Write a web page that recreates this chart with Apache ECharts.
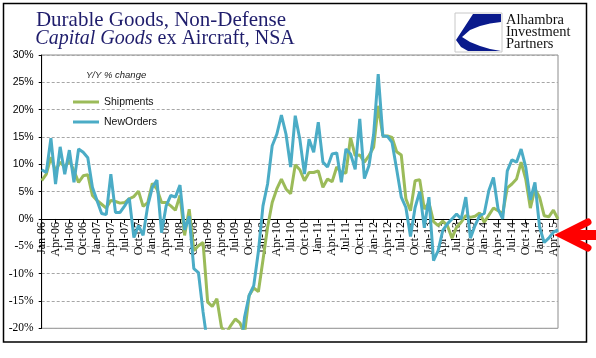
<!DOCTYPE html>
<html><head><meta charset="utf-8">
<script src="https://cdn.jsdelivr.net/npm/echarts@6/dist/echarts.min.js"></script>
<style>html,body{margin:0;padding:0;background:#fff}#c{width:596px;height:358px}</style>
</head><body><div id="c"></div>
<script>
const categories = [
'Jan-06','Feb-06','Mar-06','Apr-06','May-06','Jun-06','Jul-06','Aug-06','Sep-06','Oct-06','Nov-06','Dec-06',
'Jan-07','Feb-07','Mar-07','Apr-07','May-07','Jun-07','Jul-07','Aug-07','Sep-07','Oct-07','Nov-07','Dec-07',
'Jan-08','Feb-08','Mar-08','Apr-08','May-08','Jun-08','Jul-08','Aug-08','Sep-08','Oct-08','Nov-08','Dec-08',
'Jan-09','Feb-09','Mar-09','Apr-09','May-09','Jun-09','Jul-09','Aug-09','Sep-09','Oct-09','Nov-09','Dec-09',
'Jan-10','Feb-10','Mar-10','Apr-10','May-10','Jun-10','Jul-10','Aug-10','Sep-10','Oct-10','Nov-10','Dec-10',
'Jan-11','Feb-11','Mar-11','Apr-11','May-11','Jun-11','Jul-11','Aug-11','Sep-11','Oct-11','Nov-11','Dec-11',
'Jan-12','Feb-12','Mar-12','Apr-12','May-12','Jun-12','Jul-12','Aug-12','Sep-12','Oct-12','Nov-12','Dec-12',
'Jan-13','Feb-13','Mar-13','Apr-13','May-13','Jun-13','Jul-13','Aug-13','Sep-13','Oct-13','Nov-13','Dec-13',
'Jan-14','Feb-14','Mar-14','Apr-14','May-14','Jun-14','Jul-14','Aug-14','Sep-14','Oct-14','Nov-14','Dec-14',
'Jan-15','Feb-15','Mar-15','Apr-15','May-15'];

const shipments = [
7.0,8.2,11.3,8.8,10.4,9.5,10.7,8.8,6.7,7.9,8.1,4.3,
3.4,2.7,2.0,3.4,3.2,2.9,3.0,3.7,4.1,5.1,2.3,3.0,
6.5,5.5,3.0,3.0,2.4,1.6,4.3,-3.0,1.8,-5.8,-4.9,-4.3,
-15.2,-16.0,-14.6,-19.8,-21.0,-19.5,-18.3,-19.0,-21.0,-14.0,-12.6,-13.3,
-7.5,-1.5,3.0,5.5,7.3,5.5,4.6,9.9,9.0,7.0,8.5,8.5,
8.8,5.8,7.3,6.8,9.5,8.5,8.4,14.9,11.6,11.7,10.4,11.6,
13.1,20.7,15.2,15.2,14.9,12.3,11.7,3.7,1.5,7.0,7.2,1.8,
3.0,-0.5,-1.2,-0.4,-1.2,-3.5,-1.5,-0.6,0.6,0.3,0.5,1.1,
-0.6,0.7,2.0,1.5,1.0,5.7,6.4,7.3,10.4,7.3,2.0,5.5,
4.0,0.6,0.4,1.6,0.0];

const newOrders = [
9.0,8.5,14.8,6.4,13.2,8.2,12.6,6.7,12.8,12.2,11.2,5.8,
3.4,1.0,0.8,8.2,1.2,1.2,2.4,3.8,-3.4,-1.2,-3.0,2.4,
5.8,7.1,-2.5,2.4,4.3,4.0,6.2,-2.0,0.5,-9.1,-9.8,-17.0,
-23,-26,-29,-31,-32,-30,-29,-25,-18,-14.0,-12.2,-6.0,
2.4,6.4,13.4,15.5,19.0,15.5,9.5,18.9,14.6,8.2,14.6,12.2,
17.7,10.4,9.5,11.9,12.1,6.7,12.8,11.9,9.1,18.3,7.4,9.8,
15.4,26.5,15.2,15.1,14.0,9.1,4.0,2.1,-3.2,2.1,5.0,-1.6,
4.0,-7.6,-5.8,-2.1,-0.9,0.0,0.9,0.0,4.0,-3.5,-1.2,0.6,
1.0,5.2,7.6,1.8,0.0,8.8,10.8,10.4,12.8,9.5,3.5,6.7,
-1.5,-4.3,-3.5,-2.4,-2.0];

const seriesNames = ['Shipments','NewOrders'];
const titleLine1 = 'Durable Goods, Non-Defense';
const titleItalic = 'Capital Goods';
const titleRest = ' ex Aircraft, NSA';
const subLabel = 'Y/Y % change';
const logoLines = ['Alhambra','Investment','Partners'];

const chart = echarts.init(document.getElementById('c'), null, {renderer:'canvas'});
const navy = '#1f1d6c';
const gridTop = 55, gridBottom = 29.7, H = 358;
const plotH = H - gridTop - gridBottom;
const zeroShift = -plotH * (0 - (-20)) / (30 - (-20));
chart.setOption({
  animation:false,
  backgroundColor:'#fff',
  grid:{left:41.7, right:38, top:gridTop, bottom:gridBottom, show:true, borderColor:'#8c8c8c', borderWidth:1, backgroundColor:'transparent'},
  legend:{
    data:seriesNames, orient:'vertical', left:73, top:96.5, padding:0, itemWidth:26, itemHeight:3, itemGap:9,
    icon:'rect', textStyle:{fontFamily:'Liberation Sans', fontSize:10.5, color:'#111'}
  },
  xAxis:{
    type:'category', data:categories, boundaryGap:false, position:'bottom', offset:zeroShift,
    axisLine:{onZero:false, lineStyle:{color:'#000', width:1}},
    axisTick:{show:true, interval:2, length:4, lineStyle:{color:'#000'}},
    axisLabel:{interval:2, rotate:90, margin:3, fontFamily:'Liberation Serif', fontSize:12, color:'#000'},
    splitLine:{show:false}
  },
  yAxis:{
    type:'value', min:-20, max:30, interval:5,
    axisLine:{show:true, lineStyle:{color:'#000', width:1}},
    axisTick:{show:true, length:3, lineStyle:{color:'#000'}},
    axisLabel:{margin:8, color:'#000',
      formatter:function(v){ return v<0 ? '{n|'+v+'%}' : '{p|'+v+'%}'; },
      rich:{n:{fontFamily:'Liberation Serif', fontSize:11.5, color:'#000'}, p:{fontFamily:'Liberation Sans', fontSize:10.5, color:'#000'}}
    },
    splitLine:{show:true, lineStyle:{color:'#a6a6a6', width:1, type:[3,2]}}
  },
  series:[
    {name:seriesNames[0], type:'line', data:shipments, symbol:'none', clip:true,
     lineStyle:{color:'#9bbb59', width:3}, itemStyle:{color:'#9bbb59'}},
    {name:seriesNames[1], type:'line', data:newOrders, symbol:'none', clip:true,
     lineStyle:{color:'#4bacc6', width:3}, itemStyle:{color:'#4bacc6'}}
  ],
  graphic:[
    {type:'rect', shape:{x:3.5, y:3.5, width:583, height:338.5}, style:{fill:'none', stroke:'#000', lineWidth:1.5}, z:100},
    {type:'text', x:161, y:20, style:{text:titleLine1, fontFamily:'Liberation Serif', fontSize:21, fill:navy, align:'center', verticalAlign:'middle'}},
    {type:'text', x:165, y:39, style:{text:'{i|'+titleItalic+'}{r|'+titleRest+'}', align:'center', verticalAlign:'middle',
      rich:{i:{fontFamily:'Liberation Serif', fontStyle:'italic', fontSize:20, fill:navy, color:navy},
            r:{fontFamily:'Liberation Serif', fontSize:20, fill:navy, color:navy}}}},
    {type:'text', x:86, y:75, style:{text:subLabel, fontFamily:'Liberation Sans', fontStyle:'italic', fontSize:9.5, fill:'#222', verticalAlign:'middle'}},
    {type:'rect', shape:{x:455, y:13, width:47, height:39}, style:{fill:'#fff', stroke:'#c8c8c8', lineWidth:1}},
    {type:'polygon', shape:{points:[[473,14],[501,14],[501,22],[490,23.5],[480,26],[470,30],[462,37],[470,42],[480,46],[490,49],[501,51],[468,51],[461,47],[456,40]]}, style:{fill:'#0a1a8c'}},
    {type:'text', x:506, y:20, style:{text:logoLines[0], fontFamily:'Liberation Serif', fontSize:14.5, fill:'#111', verticalAlign:'middle'}},
    {type:'text', x:506, y:32, style:{text:logoLines[1], fontFamily:'Liberation Serif', fontSize:14.5, fill:'#111', verticalAlign:'middle'}},
    {type:'text', x:506, y:44, style:{text:logoLines[2], fontFamily:'Liberation Serif', fontSize:14.5, fill:'#111', verticalAlign:'middle'}},
    {type:'polyline', shape:{points:[[588,222],[562,235],[588,248]]}, style:{stroke:'#ff0000', lineWidth:7, fill:'none', lineCap:'round', lineJoin:'miter'}, z:110},
    {type:'rect', shape:{x:566, y:230, width:30, height:10}, style:{fill:'#ff0000'}, z:110}
  ]
});
</script></body></html>
